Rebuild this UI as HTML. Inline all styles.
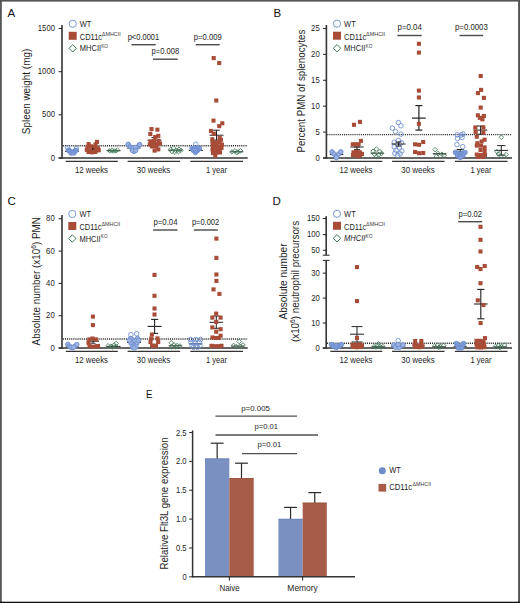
<!DOCTYPE html><html><head><meta charset="utf-8"><style>html,body{margin:0;padding:0;background:#fff;}svg{display:block;}</style></head><body>
<svg width="520" height="603" viewBox="0 0 520 603" font-family='"Liberation Sans", sans-serif'>
<rect x="0" y="0" width="520" height="603" fill="#fff"/>
<line x1="62.00" y1="25.00" x2="62.00" y2="158.70" stroke="#333" stroke-width="1.6" />
<line x1="58.60" y1="158.00" x2="62.00" y2="158.00" stroke="#333" stroke-width="1.1" />
<text x="55.00" y="160.50" font-size="9.2" text-anchor="end" fill="#1e1e1e" textLength="4.3" lengthAdjust="spacingAndGlyphs" >0</text>
<line x1="58.60" y1="114.83" x2="62.00" y2="114.83" stroke="#333" stroke-width="1.1" />
<text x="55.00" y="117.33" font-size="9.2" text-anchor="end" fill="#1e1e1e" textLength="12.899999999999999" lengthAdjust="spacingAndGlyphs" >500</text>
<line x1="58.60" y1="71.67" x2="62.00" y2="71.67" stroke="#333" stroke-width="1.1" />
<text x="55.00" y="74.17" font-size="9.2" text-anchor="end" fill="#1e1e1e" textLength="17.2" lengthAdjust="spacingAndGlyphs" >1000</text>
<line x1="58.60" y1="28.50" x2="62.00" y2="28.50" stroke="#333" stroke-width="1.1" />
<text x="55.00" y="31.00" font-size="9.2" text-anchor="end" fill="#1e1e1e" textLength="17.2" lengthAdjust="spacingAndGlyphs" >1500</text>
<line x1="58.60" y1="158.00" x2="247.70" y2="158.00" stroke="#333" stroke-width="1.5" />
<line x1="62.80" y1="145.70" x2="247.70" y2="145.70" stroke="#2a2a2a" stroke-width="1.4" stroke-dasharray="1.1,1"/>
<line x1="65.80" y1="161.40" x2="117.80" y2="161.40" stroke="#333" stroke-width="1.2" />
<line x1="127.60" y1="161.40" x2="180.10" y2="161.40" stroke="#333" stroke-width="1.2" />
<line x1="190.40" y1="161.40" x2="243.00" y2="161.40" stroke="#333" stroke-width="1.2" />
<text x="91.50" y="172.50" font-size="8.6" text-anchor="middle" fill="#1e1e1e" textLength="33" lengthAdjust="spacingAndGlyphs" >12 weeks</text>
<text x="153.50" y="172.50" font-size="8.6" text-anchor="middle" fill="#1e1e1e" textLength="33.4" lengthAdjust="spacingAndGlyphs" >30 weeks</text>
<text x="216.50" y="172.50" font-size="8.6" text-anchor="middle" fill="#1e1e1e" textLength="21" lengthAdjust="spacingAndGlyphs" >1 year</text>
<text x="7.60" y="17.00" font-size="11.5" text-anchor="start" fill="#111" >A</text>
<text x="0" y="0" font-size="10" text-anchor="middle" fill="#1e1e1e" textLength="85.4" lengthAdjust="spacingAndGlyphs" transform="translate(29.90,91.50) rotate(-90)">Spleen weight (mg)</text>
<circle cx="72.70" cy="23.80" r="3.6" fill="none" stroke="#6a8ccf" stroke-width="0.9"/>
<rect x="68.70" y="31.80" width="8" height="8" fill="#a84c38"/>
<path d="M72.70 44.60L76.40 48.30L72.70 52.00L69.00 48.30Z" fill="none" stroke="#3f7a58" stroke-width="1.0"/>
<text x="79.80" y="27.00" font-size="8.8" text-anchor="start" fill="#1e1e1e" textLength="11.6" lengthAdjust="spacingAndGlyphs" >WT</text>
<text x="79.80" y="39.90" font-size="9.0" text-anchor="start" fill="#1e1e1e" textLength="22.2" lengthAdjust="spacingAndGlyphs" >CD11c</text>
<text x="101.80" y="35.70" font-size="5.2" text-anchor="start" fill="#3a3a3a" textLength="19" lengthAdjust="spacingAndGlyphs" >ΔMHCII</text>
<text x="79.80" y="51.40" font-size="8.6" text-anchor="start" fill="#1e1e1e" textLength="21.3" lengthAdjust="spacingAndGlyphs" >MHCII</text>
<text x="101.20" y="47.60" font-size="5.2" text-anchor="start" fill="#3a3a3a" textLength="6.8" lengthAdjust="spacingAndGlyphs" >KO</text>
<line x1="65.00" y1="151.20" x2="79.00" y2="151.20" stroke="#222" stroke-width="1.0" />
<circle cx="69.50" cy="150.80" r="2.3" fill="#809cd8" stroke="#6a8ccf" stroke-width="0.85"/>
<circle cx="72.00" cy="152.20" r="2.3" fill="#809cd8" stroke="#6a8ccf" stroke-width="0.85"/>
<circle cx="74.50" cy="151.40" r="2.3" fill="#809cd8" stroke="#6a8ccf" stroke-width="0.85"/>
<circle cx="71.00" cy="153.00" r="2.3" fill="#809cd8" stroke="#6a8ccf" stroke-width="0.85"/>
<circle cx="73.80" cy="153.00" r="2.3" fill="#809cd8" stroke="#6a8ccf" stroke-width="0.85"/>
<circle cx="68.60" cy="150.10" r="2.3" fill="#809cd8" stroke="#6a8ccf" stroke-width="0.85"/>
<circle cx="76.00" cy="150.40" r="2.3" fill="#809cd8" stroke="#6a8ccf" stroke-width="0.85"/>
<circle cx="67.60" cy="147.80" r="2.3" fill="none" stroke="#6a8ccf" stroke-width="0.85"/>
<circle cx="76.40" cy="148.70" r="2.3" fill="none" stroke="#6a8ccf" stroke-width="0.85"/>
<rect x="94.95" y="139.85" width="4.1" height="4.1" fill="#a84c38"/>
<rect x="86.55" y="142.05" width="4.1" height="4.1" fill="#a84c38"/>
<rect x="93.45" y="142.45" width="4.1" height="4.1" fill="#a84c38"/>
<rect x="85.45" y="144.75" width="4.1" height="4.1" fill="#a84c38"/>
<rect x="88.95" y="144.25" width="4.1" height="4.1" fill="#a84c38"/>
<rect x="92.95" y="144.95" width="4.1" height="4.1" fill="#a84c38"/>
<rect x="95.95" y="146.15" width="4.1" height="4.1" fill="#a84c38"/>
<rect x="84.75" y="147.75" width="4.1" height="4.1" fill="#a84c38"/>
<rect x="87.55" y="148.25" width="4.1" height="4.1" fill="#a84c38"/>
<rect x="90.95" y="148.55" width="4.1" height="4.1" fill="#a84c38"/>
<rect x="94.45" y="148.35" width="4.1" height="4.1" fill="#a84c38"/>
<rect x="96.75" y="148.15" width="4.1" height="4.1" fill="#a84c38"/>
<rect x="86.45" y="149.95" width="4.1" height="4.1" fill="#a84c38"/>
<rect x="89.75" y="150.25" width="4.1" height="4.1" fill="#a84c38"/>
<rect x="93.15" y="149.95" width="4.1" height="4.1" fill="#a84c38"/>
<rect x="92" y="147.9" width="1.6" height="1.6" fill="#111"/>
<line x1="106.50" y1="150.70" x2="120.50" y2="150.70" stroke="#222" stroke-width="1.0" />
<path d="M109.30 148.60L111.30 150.60L109.30 152.60L107.30 150.60Z" fill="none" stroke="#3f7a58" stroke-width="0.85"/>
<path d="M112.00 147.80L114.00 149.80L112.00 151.80L110.00 149.80Z" fill="none" stroke="#3f7a58" stroke-width="0.85"/>
<path d="M114.80 148.70L116.80 150.70L114.80 152.70L112.80 150.70Z" fill="none" stroke="#3f7a58" stroke-width="0.85"/>
<path d="M117.40 147.80L119.40 149.80L117.40 151.80L115.40 149.80Z" fill="none" stroke="#3f7a58" stroke-width="0.85"/>
<path d="M113.30 149.30L115.30 151.30L113.30 153.30L111.30 151.30Z" fill="none" stroke="#3f7a58" stroke-width="0.85"/>
<path d="M116.00 149.20L118.00 151.20L116.00 153.20L114.00 151.20Z" fill="none" stroke="#3f7a58" stroke-width="0.85"/>
<path d="M110.60 149.20L112.60 151.20L110.60 153.20L108.60 151.20Z" fill="none" stroke="#3f7a58" stroke-width="0.85"/>
<line x1="126.80" y1="148.10" x2="140.80" y2="148.10" stroke="#222" stroke-width="0.8" />
<line x1="133.80" y1="146.90" x2="133.80" y2="149.30" stroke="#222" stroke-width="0.8" />
<line x1="131.80" y1="146.90" x2="135.80" y2="146.90" stroke="#222" stroke-width="0.8" />
<line x1="131.80" y1="149.30" x2="135.80" y2="149.30" stroke="#222" stroke-width="0.8" />
<circle cx="128.20" cy="144.60" r="2.1" fill="#9db2e0" stroke="#6a8ccf" stroke-width="0.85"/>
<circle cx="130.00" cy="146.60" r="2.1" fill="#9db2e0" stroke="#6a8ccf" stroke-width="0.85"/>
<circle cx="132.00" cy="148.80" r="2.1" fill="#9db2e0" stroke="#6a8ccf" stroke-width="0.85"/>
<circle cx="134.00" cy="150.60" r="2.1" fill="#9db2e0" stroke="#6a8ccf" stroke-width="0.85"/>
<circle cx="134.00" cy="151.60" r="2.1" fill="#9db2e0" stroke="#6a8ccf" stroke-width="0.85"/>
<circle cx="136.00" cy="148.80" r="2.1" fill="#9db2e0" stroke="#6a8ccf" stroke-width="0.85"/>
<circle cx="138.00" cy="146.60" r="2.1" fill="#9db2e0" stroke="#6a8ccf" stroke-width="0.85"/>
<circle cx="139.60" cy="144.80" r="2.1" fill="#9db2e0" stroke="#6a8ccf" stroke-width="0.85"/>
<circle cx="133.00" cy="147.40" r="2.1" fill="#9db2e0" stroke="#6a8ccf" stroke-width="0.85"/>
<circle cx="135.50" cy="147.40" r="2.1" fill="#9db2e0" stroke="#6a8ccf" stroke-width="0.85"/>
<circle cx="132.20" cy="150.60" r="2.1" fill="#9db2e0" stroke="#6a8ccf" stroke-width="0.85"/>
<circle cx="135.80" cy="150.60" r="2.1" fill="#9db2e0" stroke="#6a8ccf" stroke-width="0.85"/>
<circle cx="128.20" cy="144.40" r="2.3" fill="none" stroke="#6a8ccf" stroke-width="0.85"/>
<circle cx="139.60" cy="144.60" r="2.3" fill="none" stroke="#6a8ccf" stroke-width="0.85"/>
<line x1="147.40" y1="140.20" x2="161.40" y2="140.20" stroke="#222" stroke-width="1.0" />
<line x1="154.40" y1="137.60" x2="154.40" y2="142.80" stroke="#222" stroke-width="1.0" />
<line x1="151.40" y1="137.60" x2="157.40" y2="137.60" stroke="#222" stroke-width="1.0" />
<line x1="151.40" y1="142.80" x2="157.40" y2="142.80" stroke="#222" stroke-width="1.0" />
<rect x="149.45" y="127.05" width="4.1" height="4.1" fill="#a84c38"/>
<rect x="155.35" y="127.65" width="4.1" height="4.1" fill="#a84c38"/>
<rect x="148.25" y="131.95" width="4.1" height="4.1" fill="#a84c38"/>
<rect x="156.25" y="133.75" width="4.1" height="4.1" fill="#a84c38"/>
<rect x="153.15" y="134.95" width="4.1" height="4.1" fill="#a84c38"/>
<rect x="148.45" y="139.45" width="4.1" height="4.1" fill="#a84c38"/>
<rect x="151.95" y="138.95" width="4.1" height="4.1" fill="#a84c38"/>
<rect x="156.45" y="138.75" width="4.1" height="4.1" fill="#a84c38"/>
<rect x="147.75" y="142.45" width="4.1" height="4.1" fill="#a84c38"/>
<rect x="151.15" y="142.75" width="4.1" height="4.1" fill="#a84c38"/>
<rect x="154.95" y="142.45" width="4.1" height="4.1" fill="#a84c38"/>
<rect x="157.95" y="141.45" width="4.1" height="4.1" fill="#a84c38"/>
<rect x="149.95" y="144.45" width="4.1" height="4.1" fill="#a84c38"/>
<rect x="153.95" y="144.45" width="4.1" height="4.1" fill="#a84c38"/>
<rect x="152.55" y="148.55" width="4.1" height="4.1" fill="#a84c38"/>
<rect x="156.25" y="147.35" width="4.1" height="4.1" fill="#a84c38"/>
<line x1="168.20" y1="150.20" x2="182.20" y2="150.20" stroke="#222" stroke-width="1.0" />
<path d="M170.50 147.20L172.80 149.50L170.50 151.80L168.20 149.50Z" fill="none" stroke="#3f7a58" stroke-width="0.85"/>
<path d="M173.50 145.70L175.80 148.00L173.50 150.30L171.20 148.00Z" fill="none" stroke="#3f7a58" stroke-width="0.85"/>
<path d="M176.00 148.20L178.30 150.50L176.00 152.80L173.70 150.50Z" fill="none" stroke="#3f7a58" stroke-width="0.85"/>
<path d="M179.00 147.00L181.30 149.30L179.00 151.60L176.70 149.30Z" fill="none" stroke="#3f7a58" stroke-width="0.85"/>
<path d="M172.00 149.20L174.30 151.50L172.00 153.80L169.70 151.50Z" fill="none" stroke="#3f7a58" stroke-width="0.85"/>
<path d="M175.00 150.00L177.30 152.30L175.00 154.60L172.70 152.30Z" fill="none" stroke="#3f7a58" stroke-width="0.85"/>
<path d="M178.50 149.30L180.80 151.60L178.50 153.90L176.20 151.60Z" fill="none" stroke="#3f7a58" stroke-width="0.85"/>
<path d="M181.00 148.00L183.30 150.30L181.00 152.60L178.70 150.30Z" fill="none" stroke="#3f7a58" stroke-width="0.85"/>
<line x1="188.80" y1="150.50" x2="202.80" y2="150.50" stroke="#222" stroke-width="1.0" />
<circle cx="192.00" cy="148.50" r="2.3" fill="#809cd8" stroke="#6a8ccf" stroke-width="0.85"/>
<circle cx="194.50" cy="148.00" r="2.3" fill="#809cd8" stroke="#6a8ccf" stroke-width="0.85"/>
<circle cx="197.00" cy="148.00" r="2.3" fill="#809cd8" stroke="#6a8ccf" stroke-width="0.85"/>
<circle cx="199.50" cy="148.50" r="2.3" fill="#809cd8" stroke="#6a8ccf" stroke-width="0.85"/>
<circle cx="193.50" cy="150.50" r="2.3" fill="#809cd8" stroke="#6a8ccf" stroke-width="0.85"/>
<circle cx="197.50" cy="150.50" r="2.3" fill="#809cd8" stroke="#6a8ccf" stroke-width="0.85"/>
<circle cx="195.50" cy="152.40" r="2.3" fill="#809cd8" stroke="#6a8ccf" stroke-width="0.85"/>
<circle cx="195.50" cy="150.00" r="2.3" fill="#809cd8" stroke="#6a8ccf" stroke-width="0.85"/>
<circle cx="195.80" cy="144.20" r="2.3" fill="none" stroke="#6a8ccf" stroke-width="0.85"/>
<line x1="209.50" y1="135.20" x2="223.50" y2="135.20" stroke="#222" stroke-width="1.0" />
<line x1="216.50" y1="130.20" x2="216.50" y2="140.10" stroke="#222" stroke-width="1.0" />
<line x1="213.20" y1="130.20" x2="219.80" y2="130.20" stroke="#222" stroke-width="1.0" />
<line x1="213.20" y1="140.10" x2="219.80" y2="140.10" stroke="#222" stroke-width="1.0" />
<rect x="211.65" y="56.05" width="4.1" height="4.1" fill="#a84c38"/>
<rect x="217.15" y="60.95" width="4.1" height="4.1" fill="#a84c38"/>
<rect x="214.25" y="98.45" width="4.1" height="4.1" fill="#a84c38"/>
<rect x="211.45" y="118.55" width="4.1" height="4.1" fill="#a84c38"/>
<rect x="220.25" y="121.25" width="4.1" height="4.1" fill="#a84c38"/>
<rect x="217.15" y="124.05" width="4.1" height="4.1" fill="#a84c38"/>
<rect x="208.95" y="128.95" width="4.1" height="4.1" fill="#a84c38"/>
<rect x="211.75" y="131.55" width="4.1" height="4.1" fill="#a84c38"/>
<rect x="210.25" y="137.15" width="4.1" height="4.1" fill="#a84c38"/>
<rect x="217.65" y="135.85" width="4.1" height="4.1" fill="#a84c38"/>
<rect x="218.85" y="137.75" width="4.1" height="4.1" fill="#a84c38"/>
<rect x="210.45" y="140.45" width="4.1" height="4.1" fill="#a84c38"/>
<rect x="213.95" y="140.45" width="4.1" height="4.1" fill="#a84c38"/>
<rect x="217.45" y="140.45" width="4.1" height="4.1" fill="#a84c38"/>
<rect x="219.95" y="142.45" width="4.1" height="4.1" fill="#a84c38"/>
<rect x="210.95" y="143.95" width="4.1" height="4.1" fill="#a84c38"/>
<rect x="214.45" y="143.95" width="4.1" height="4.1" fill="#a84c38"/>
<rect x="217.95" y="144.45" width="4.1" height="4.1" fill="#a84c38"/>
<rect x="210.45" y="147.45" width="4.1" height="4.1" fill="#a84c38"/>
<rect x="213.95" y="147.45" width="4.1" height="4.1" fill="#a84c38"/>
<rect x="217.45" y="147.45" width="4.1" height="4.1" fill="#a84c38"/>
<rect x="219.45" y="145.95" width="4.1" height="4.1" fill="#a84c38"/>
<rect x="210.95" y="150.95" width="4.1" height="4.1" fill="#a84c38"/>
<rect x="214.45" y="150.45" width="4.1" height="4.1" fill="#a84c38"/>
<rect x="217.95" y="150.45" width="4.1" height="4.1" fill="#a84c38"/>
<rect x="213.25" y="153.75" width="4.1" height="4.1" fill="#a84c38"/>
<line x1="230.30" y1="151.80" x2="243.30" y2="151.80" stroke="#222" stroke-width="1.0" />
<path d="M232.00 149.50L234.30 151.80L232.00 154.10L229.70 151.80Z" fill="none" stroke="#3f7a58" stroke-width="0.85"/>
<path d="M235.00 148.50L237.30 150.80L235.00 153.10L232.70 150.80Z" fill="none" stroke="#3f7a58" stroke-width="0.85"/>
<path d="M238.00 149.70L240.30 152.00L238.00 154.30L235.70 152.00Z" fill="none" stroke="#3f7a58" stroke-width="0.85"/>
<path d="M240.50 148.50L242.80 150.80L240.50 153.10L238.20 150.80Z" fill="none" stroke="#3f7a58" stroke-width="0.85"/>
<path d="M236.50 150.30L238.80 152.60L236.50 154.90L234.20 152.60Z" fill="none" stroke="#3f7a58" stroke-width="0.85"/>
<text x="127.70" y="39.60" font-size="8.2" text-anchor="start" fill="#1e1e1e" textLength="31.5" lengthAdjust="spacingAndGlyphs" >p&lt;0.0001</text>
<line x1="131.50" y1="44.70" x2="155.70" y2="44.70" stroke="#4a4a4a" stroke-width="1.4" />
<text x="151.50" y="54.20" font-size="8.2" text-anchor="start" fill="#1e1e1e" textLength="27.7" lengthAdjust="spacingAndGlyphs" >p=0.008</text>
<line x1="153.00" y1="59.20" x2="177.70" y2="59.20" stroke="#4a4a4a" stroke-width="1.4" />
<text x="193.80" y="40.00" font-size="8.2" text-anchor="start" fill="#1e1e1e" textLength="28" lengthAdjust="spacingAndGlyphs" >p=0.009</text>
<line x1="195.80" y1="44.70" x2="219.70" y2="44.70" stroke="#4a4a4a" stroke-width="1.4" />
<line x1="326.40" y1="25.00" x2="326.40" y2="158.70" stroke="#333" stroke-width="1.6" />
<line x1="323.00" y1="158.00" x2="326.40" y2="158.00" stroke="#333" stroke-width="1.1" />
<text x="319.70" y="160.50" font-size="9.2" text-anchor="end" fill="#1e1e1e" textLength="4.3" lengthAdjust="spacingAndGlyphs" >0</text>
<line x1="323.00" y1="132.10" x2="326.40" y2="132.10" stroke="#333" stroke-width="1.1" />
<text x="319.70" y="134.60" font-size="9.2" text-anchor="end" fill="#1e1e1e" textLength="4.3" lengthAdjust="spacingAndGlyphs" >5</text>
<line x1="323.00" y1="106.20" x2="326.40" y2="106.20" stroke="#333" stroke-width="1.1" />
<text x="319.70" y="108.70" font-size="9.2" text-anchor="end" fill="#1e1e1e" textLength="8.6" lengthAdjust="spacingAndGlyphs" >10</text>
<line x1="323.00" y1="80.30" x2="326.40" y2="80.30" stroke="#333" stroke-width="1.1" />
<text x="319.70" y="82.80" font-size="9.2" text-anchor="end" fill="#1e1e1e" textLength="8.6" lengthAdjust="spacingAndGlyphs" >15</text>
<line x1="323.00" y1="54.40" x2="326.40" y2="54.40" stroke="#333" stroke-width="1.1" />
<text x="319.70" y="56.90" font-size="9.2" text-anchor="end" fill="#1e1e1e" textLength="8.6" lengthAdjust="spacingAndGlyphs" >20</text>
<line x1="323.00" y1="28.50" x2="326.40" y2="28.50" stroke="#333" stroke-width="1.1" />
<text x="319.70" y="31.00" font-size="9.2" text-anchor="end" fill="#1e1e1e" textLength="8.6" lengthAdjust="spacingAndGlyphs" >25</text>
<line x1="323.00" y1="158.00" x2="512.00" y2="158.00" stroke="#333" stroke-width="1.5" />
<line x1="327.20" y1="134.60" x2="512.00" y2="134.60" stroke="#2a2a2a" stroke-width="1.4" stroke-dasharray="1.1,1"/>
<line x1="330.30" y1="161.40" x2="382.30" y2="161.40" stroke="#333" stroke-width="1.2" />
<line x1="392.10" y1="161.40" x2="444.60" y2="161.40" stroke="#333" stroke-width="1.2" />
<line x1="454.90" y1="161.40" x2="507.50" y2="161.40" stroke="#333" stroke-width="1.2" />
<text x="356.00" y="172.50" font-size="8.6" text-anchor="middle" fill="#1e1e1e" textLength="33" lengthAdjust="spacingAndGlyphs" >12 weeks</text>
<text x="418.00" y="172.50" font-size="8.6" text-anchor="middle" fill="#1e1e1e" textLength="33.4" lengthAdjust="spacingAndGlyphs" >30 weeks</text>
<text x="481.00" y="172.50" font-size="8.6" text-anchor="middle" fill="#1e1e1e" textLength="21" lengthAdjust="spacingAndGlyphs" >1 year</text>
<text x="273.40" y="17.00" font-size="11.5" text-anchor="start" fill="#111" >B</text>
<text x="0" y="0" font-size="10.4" text-anchor="middle" fill="#1e1e1e" textLength="123" lengthAdjust="spacingAndGlyphs" transform="translate(304.60,91.10) rotate(-90)">Percent PMN of splenocytes</text>
<circle cx="337.00" cy="23.70" r="3.6" fill="none" stroke="#6a8ccf" stroke-width="0.9"/>
<rect x="333.00" y="31.70" width="8" height="8" fill="#a84c38"/>
<path d="M337.00 44.50L340.70 48.20L337.00 51.90L333.30 48.20Z" fill="none" stroke="#3f7a58" stroke-width="1.0"/>
<text x="344.10" y="26.90" font-size="8.8" text-anchor="start" fill="#1e1e1e" textLength="11.6" lengthAdjust="spacingAndGlyphs" >WT</text>
<text x="344.10" y="39.80" font-size="9.0" text-anchor="start" fill="#1e1e1e" textLength="22.2" lengthAdjust="spacingAndGlyphs" >CD11c</text>
<text x="366.10" y="35.60" font-size="5.2" text-anchor="start" fill="#3a3a3a" textLength="19" lengthAdjust="spacingAndGlyphs" >ΔMHCII</text>
<text x="344.10" y="51.30" font-size="8.6" text-anchor="start" fill="#1e1e1e" textLength="21.3" lengthAdjust="spacingAndGlyphs" >MHCII</text>
<text x="365.50" y="47.50" font-size="5.2" text-anchor="start" fill="#3a3a3a" textLength="6.8" lengthAdjust="spacingAndGlyphs" >KO</text>
<line x1="329.80" y1="154.60" x2="343.40" y2="154.60" stroke="#222" stroke-width="1.0" />
<circle cx="332.00" cy="151.80" r="2.3" fill="#9db2e0" stroke="#6a8ccf" stroke-width="0.85"/>
<circle cx="334.00" cy="154.00" r="2.3" fill="#9db2e0" stroke="#6a8ccf" stroke-width="0.85"/>
<circle cx="336.40" cy="156.10" r="2.3" fill="#9db2e0" stroke="#6a8ccf" stroke-width="0.85"/>
<circle cx="338.80" cy="154.00" r="2.3" fill="#9db2e0" stroke="#6a8ccf" stroke-width="0.85"/>
<circle cx="340.80" cy="151.80" r="2.3" fill="#9db2e0" stroke="#6a8ccf" stroke-width="0.85"/>
<circle cx="336.40" cy="157.60" r="2.3" fill="#9db2e0" stroke="#6a8ccf" stroke-width="0.85"/>
<line x1="350.40" y1="147.00" x2="363.60" y2="147.00" stroke="#222" stroke-width="1.0" />
<line x1="357.00" y1="147.00" x2="357.00" y2="149.60" stroke="#222" stroke-width="1.0" />
<line x1="354.00" y1="147.00" x2="360.00" y2="147.00" stroke="#222" stroke-width="1.0" />
<line x1="354.00" y1="149.60" x2="360.00" y2="149.60" stroke="#222" stroke-width="1.0" />
<rect x="351.95" y="122.75" width="4.1" height="4.1" fill="#a84c38"/>
<rect x="357.95" y="119.85" width="4.1" height="4.1" fill="#a84c38"/>
<rect x="358.85" y="138.85" width="4.1" height="4.1" fill="#a84c38"/>
<rect x="350.75" y="142.25" width="4.1" height="4.1" fill="#a84c38"/>
<rect x="353.65" y="142.25" width="4.1" height="4.1" fill="#a84c38"/>
<rect x="356.55" y="142.25" width="4.1" height="4.1" fill="#a84c38"/>
<rect x="351.45" y="150.25" width="4.1" height="4.1" fill="#a84c38"/>
<rect x="354.45" y="149.75" width="4.1" height="4.1" fill="#a84c38"/>
<rect x="357.95" y="150.25" width="4.1" height="4.1" fill="#a84c38"/>
<rect x="350.95" y="152.95" width="4.1" height="4.1" fill="#a84c38"/>
<rect x="354.45" y="153.25" width="4.1" height="4.1" fill="#a84c38"/>
<rect x="357.95" y="152.95" width="4.1" height="4.1" fill="#a84c38"/>
<rect x="359.95" y="151.95" width="4.1" height="4.1" fill="#a84c38"/>
<rect x="355.95" y="153.95" width="4.1" height="4.1" fill="#a84c38"/>
<line x1="370.70" y1="153.20" x2="383.90" y2="153.20" stroke="#222" stroke-width="1.0" />
<path d="M376.40 146.70L378.70 149.00L376.40 151.30L374.10 149.00Z" fill="none" stroke="#3f7a58" stroke-width="0.85"/>
<path d="M373.00 149.00L375.30 151.30L373.00 153.60L370.70 151.30Z" fill="none" stroke="#3f7a58" stroke-width="0.85"/>
<path d="M379.90 149.30L382.20 151.60L379.90 153.90L377.60 151.60Z" fill="none" stroke="#3f7a58" stroke-width="0.85"/>
<path d="M374.50 152.00L376.80 154.30L374.50 156.60L372.20 154.30Z" fill="none" stroke="#3f7a58" stroke-width="0.85"/>
<path d="M378.50 152.70L380.80 155.00L378.50 157.30L376.20 155.00Z" fill="none" stroke="#3f7a58" stroke-width="0.85"/>
<path d="M381.50 151.20L383.80 153.50L381.50 155.80L379.20 153.50Z" fill="none" stroke="#3f7a58" stroke-width="0.85"/>
<path d="M376.50 154.20L378.80 156.50L376.50 158.80L374.20 156.50Z" fill="none" stroke="#3f7a58" stroke-width="0.85"/>
<circle cx="398.40" cy="122.60" r="2.3" fill="none" stroke="#6a8ccf" stroke-width="0.85"/>
<circle cx="400.90" cy="125.80" r="2.3" fill="none" stroke="#6a8ccf" stroke-width="0.85"/>
<circle cx="392.40" cy="128.10" r="2.3" fill="none" stroke="#6a8ccf" stroke-width="0.85"/>
<circle cx="395.50" cy="131.60" r="2.3" fill="none" stroke="#6a8ccf" stroke-width="0.85"/>
<circle cx="400.90" cy="134.10" r="2.3" fill="none" stroke="#6a8ccf" stroke-width="0.85"/>
<circle cx="398.40" cy="140.50" r="2.3" fill="none" stroke="#6a8ccf" stroke-width="0.85"/>
<circle cx="394.30" cy="142.20" r="2.3" fill="none" stroke="#6a8ccf" stroke-width="0.85"/>
<circle cx="401.30" cy="142.80" r="2.3" fill="none" stroke="#6a8ccf" stroke-width="0.85"/>
<circle cx="394.30" cy="146.80" r="2.3" fill="none" stroke="#6a8ccf" stroke-width="0.85"/>
<circle cx="399.50" cy="148.00" r="2.3" fill="none" stroke="#6a8ccf" stroke-width="0.85"/>
<circle cx="396.10" cy="150.30" r="2.3" fill="none" stroke="#6a8ccf" stroke-width="0.85"/>
<circle cx="401.80" cy="150.90" r="2.3" fill="none" stroke="#6a8ccf" stroke-width="0.85"/>
<circle cx="394.90" cy="153.20" r="2.3" fill="none" stroke="#6a8ccf" stroke-width="0.85"/>
<circle cx="400.10" cy="153.80" r="2.3" fill="none" stroke="#6a8ccf" stroke-width="0.85"/>
<circle cx="397.80" cy="155.50" r="2.3" fill="none" stroke="#6a8ccf" stroke-width="0.85"/>
<line x1="391.50" y1="144.00" x2="405.50" y2="144.00" stroke="#222" stroke-width="1.0" />
<line x1="398.50" y1="142.00" x2="398.50" y2="146.00" stroke="#222" stroke-width="1.0" />
<line x1="395.50" y1="142.00" x2="401.50" y2="142.00" stroke="#222" stroke-width="1.0" />
<line x1="395.50" y1="146.00" x2="401.50" y2="146.00" stroke="#222" stroke-width="1.0" />
<line x1="412.00" y1="118.10" x2="425.80" y2="118.10" stroke="#222" stroke-width="1.2" />
<line x1="418.90" y1="105.60" x2="418.90" y2="130.10" stroke="#222" stroke-width="1.2" />
<line x1="415.40" y1="105.60" x2="422.40" y2="105.60" stroke="#222" stroke-width="1.2" />
<line x1="415.40" y1="130.10" x2="422.40" y2="130.10" stroke="#222" stroke-width="1.2" />
<rect x="416.85" y="41.75" width="4.1" height="4.1" fill="#a84c38"/>
<rect x="416.85" y="50.55" width="4.1" height="4.1" fill="#a84c38"/>
<rect x="416.85" y="88.55" width="4.1" height="4.1" fill="#a84c38"/>
<rect x="416.85" y="95.45" width="4.1" height="4.1" fill="#a84c38"/>
<rect x="416.85" y="121.75" width="4.1" height="4.1" fill="#a84c38"/>
<rect x="413.05" y="142.25" width="4.1" height="4.1" fill="#a84c38"/>
<rect x="417.05" y="142.75" width="4.1" height="4.1" fill="#a84c38"/>
<rect x="421.15" y="139.95" width="4.1" height="4.1" fill="#a84c38"/>
<rect x="413.05" y="149.95" width="4.1" height="4.1" fill="#a84c38"/>
<rect x="417.05" y="151.15" width="4.1" height="4.1" fill="#a84c38"/>
<rect x="421.15" y="150.95" width="4.1" height="4.1" fill="#a84c38"/>
<line x1="432.80" y1="153.80" x2="446.40" y2="153.80" stroke="#222" stroke-width="1.2" />
<path d="M435.10 147.40L437.40 149.70L435.10 152.00L432.80 149.70Z" fill="none" stroke="#3f7a58" stroke-width="0.85"/>
<path d="M438.00 151.20L440.30 153.50L438.00 155.80L435.70 153.50Z" fill="none" stroke="#3f7a58" stroke-width="0.85"/>
<path d="M442.00 151.90L444.30 154.20L442.00 156.50L439.70 154.20Z" fill="none" stroke="#3f7a58" stroke-width="0.85"/>
<path d="M436.50 154.00L438.80 156.30L436.50 158.60L434.20 156.30Z" fill="none" stroke="#3f7a58" stroke-width="0.85"/>
<path d="M444.00 153.00L446.30 155.30L444.00 157.60L441.70 155.30Z" fill="none" stroke="#3f7a58" stroke-width="0.85"/>
<line x1="453.40" y1="151.30" x2="467.00" y2="151.30" stroke="#222" stroke-width="1.0" />
<line x1="460.20" y1="149.50" x2="460.20" y2="152.50" stroke="#222" stroke-width="1.0" />
<line x1="456.70" y1="149.50" x2="463.70" y2="149.50" stroke="#222" stroke-width="1.0" />
<line x1="456.70" y1="152.50" x2="463.70" y2="152.50" stroke="#222" stroke-width="1.0" />
<circle cx="455.50" cy="152.50" r="2.3" fill="#809cd8" stroke="#6a8ccf" stroke-width="0.85"/>
<circle cx="458.00" cy="153.50" r="2.3" fill="#809cd8" stroke="#6a8ccf" stroke-width="0.85"/>
<circle cx="460.20" cy="154.00" r="2.3" fill="#809cd8" stroke="#6a8ccf" stroke-width="0.85"/>
<circle cx="462.50" cy="153.50" r="2.3" fill="#809cd8" stroke="#6a8ccf" stroke-width="0.85"/>
<circle cx="465.00" cy="152.50" r="2.3" fill="#809cd8" stroke="#6a8ccf" stroke-width="0.85"/>
<circle cx="457.50" cy="155.50" r="2.3" fill="#809cd8" stroke="#6a8ccf" stroke-width="0.85"/>
<circle cx="460.20" cy="156.50" r="2.3" fill="#809cd8" stroke="#6a8ccf" stroke-width="0.85"/>
<circle cx="463.00" cy="155.50" r="2.3" fill="#809cd8" stroke="#6a8ccf" stroke-width="0.85"/>
<circle cx="460.20" cy="157.50" r="2.3" fill="#809cd8" stroke="#6a8ccf" stroke-width="0.85"/>
<circle cx="457.20" cy="134.90" r="2.3" fill="none" stroke="#6a8ccf" stroke-width="0.85"/>
<circle cx="461.30" cy="134.90" r="2.3" fill="none" stroke="#6a8ccf" stroke-width="0.85"/>
<circle cx="463.10" cy="134.00" r="2.3" fill="none" stroke="#6a8ccf" stroke-width="0.85"/>
<circle cx="457.50" cy="138.50" r="2.3" fill="none" stroke="#6a8ccf" stroke-width="0.85"/>
<circle cx="462.00" cy="137.50" r="2.3" fill="none" stroke="#6a8ccf" stroke-width="0.85"/>
<circle cx="456.90" cy="144.60" r="2.3" fill="none" stroke="#6a8ccf" stroke-width="0.85"/>
<circle cx="462.70" cy="146.70" r="2.3" fill="none" stroke="#6a8ccf" stroke-width="0.85"/>
<line x1="473.80" y1="130.10" x2="487.40" y2="130.10" stroke="#222" stroke-width="1.0" />
<line x1="480.60" y1="126.00" x2="480.60" y2="134.20" stroke="#222" stroke-width="1.0" />
<line x1="476.60" y1="126.00" x2="484.60" y2="126.00" stroke="#222" stroke-width="1.0" />
<line x1="476.60" y1="134.20" x2="484.60" y2="134.20" stroke="#222" stroke-width="1.0" />
<rect x="478.65" y="73.95" width="4.1" height="4.1" fill="#a84c38"/>
<rect x="479.05" y="87.85" width="4.1" height="4.1" fill="#a84c38"/>
<rect x="475.85" y="91.05" width="4.1" height="4.1" fill="#a84c38"/>
<rect x="481.85" y="95.85" width="4.1" height="4.1" fill="#a84c38"/>
<rect x="478.65" y="105.55" width="4.1" height="4.1" fill="#a84c38"/>
<rect x="475.85" y="113.25" width="4.1" height="4.1" fill="#a84c38"/>
<rect x="477.85" y="115.75" width="4.1" height="4.1" fill="#a84c38"/>
<rect x="481.85" y="113.95" width="4.1" height="4.1" fill="#a84c38"/>
<rect x="480.35" y="117.25" width="4.1" height="4.1" fill="#a84c38"/>
<rect x="473.25" y="125.45" width="4.1" height="4.1" fill="#a84c38"/>
<rect x="481.35" y="125.45" width="4.1" height="4.1" fill="#a84c38"/>
<rect x="473.55" y="129.85" width="4.1" height="4.1" fill="#a84c38"/>
<rect x="481.35" y="130.45" width="4.1" height="4.1" fill="#a84c38"/>
<rect x="474.75" y="134.65" width="4.1" height="4.1" fill="#a84c38"/>
<rect x="482.55" y="137.65" width="4.1" height="4.1" fill="#a84c38"/>
<rect x="479.55" y="139.45" width="4.1" height="4.1" fill="#a84c38"/>
<rect x="475.35" y="141.15" width="4.1" height="4.1" fill="#a84c38"/>
<rect x="474.75" y="143.55" width="4.1" height="4.1" fill="#a84c38"/>
<rect x="478.95" y="143.55" width="4.1" height="4.1" fill="#a84c38"/>
<rect x="482.55" y="145.35" width="4.1" height="4.1" fill="#a84c38"/>
<rect x="482.55" y="148.95" width="4.1" height="4.1" fill="#a84c38"/>
<rect x="478.45" y="147.95" width="4.1" height="4.1" fill="#a84c38"/>
<rect x="474.75" y="152.55" width="4.1" height="4.1" fill="#a84c38"/>
<rect x="478.95" y="152.95" width="4.1" height="4.1" fill="#a84c38"/>
<rect x="482.95" y="152.95" width="4.1" height="4.1" fill="#a84c38"/>
<rect x="476.45" y="154.95" width="4.1" height="4.1" fill="#a84c38"/>
<rect x="480.95" y="154.95" width="4.1" height="4.1" fill="#a84c38"/>
<line x1="494.50" y1="150.40" x2="508.10" y2="150.40" stroke="#222" stroke-width="1.0" />
<line x1="501.30" y1="145.60" x2="501.30" y2="155.20" stroke="#222" stroke-width="1.0" />
<line x1="497.10" y1="145.60" x2="505.50" y2="145.60" stroke="#222" stroke-width="1.0" />
<line x1="497.10" y1="155.20" x2="505.50" y2="155.20" stroke="#222" stroke-width="1.0" />
<path d="M501.30 135.00L503.60 137.30L501.30 139.60L499.00 137.30Z" fill="none" stroke="#3f7a58" stroke-width="0.85"/>
<path d="M497.10 149.30L499.40 151.60L497.10 153.90L494.80 151.60Z" fill="none" stroke="#3f7a58" stroke-width="0.85"/>
<path d="M506.00 152.30L508.30 154.60L506.00 156.90L503.70 154.60Z" fill="none" stroke="#3f7a58" stroke-width="0.85"/>
<path d="M501.30 153.50L503.60 155.80L501.30 158.10L499.00 155.80Z" fill="none" stroke="#3f7a58" stroke-width="0.85"/>
<path d="M498.30 151.70L500.60 154.00L498.30 156.30L496.00 154.00Z" fill="none" stroke="#3f7a58" stroke-width="0.85"/>
<text x="397.50" y="30.20" font-size="8.2" text-anchor="start" fill="#1e1e1e" textLength="24.3" lengthAdjust="spacingAndGlyphs" >p=0.04</text>
<line x1="397.30" y1="35.50" x2="421.70" y2="35.50" stroke="#4a4a4a" stroke-width="1.4" />
<text x="455.00" y="30.20" font-size="8.2" text-anchor="start" fill="#1e1e1e" textLength="32.8" lengthAdjust="spacingAndGlyphs" >p=0.0003</text>
<line x1="459.50" y1="35.50" x2="483.20" y2="35.50" stroke="#4a4a4a" stroke-width="1.4" />
<line x1="62.00" y1="215.00" x2="62.00" y2="348.70" stroke="#333" stroke-width="1.6" />
<line x1="58.60" y1="348.00" x2="62.00" y2="348.00" stroke="#333" stroke-width="1.1" />
<text x="54.70" y="350.50" font-size="9.2" text-anchor="end" fill="#1e1e1e" textLength="4.3" lengthAdjust="spacingAndGlyphs" >0</text>
<line x1="58.60" y1="315.70" x2="62.00" y2="315.70" stroke="#333" stroke-width="1.1" />
<text x="54.70" y="318.20" font-size="9.2" text-anchor="end" fill="#1e1e1e" textLength="8.6" lengthAdjust="spacingAndGlyphs" >20</text>
<line x1="58.60" y1="283.40" x2="62.00" y2="283.40" stroke="#333" stroke-width="1.1" />
<text x="54.70" y="285.90" font-size="9.2" text-anchor="end" fill="#1e1e1e" textLength="8.6" lengthAdjust="spacingAndGlyphs" >40</text>
<line x1="58.60" y1="251.10" x2="62.00" y2="251.10" stroke="#333" stroke-width="1.1" />
<text x="54.70" y="253.60" font-size="9.2" text-anchor="end" fill="#1e1e1e" textLength="8.6" lengthAdjust="spacingAndGlyphs" >60</text>
<line x1="58.60" y1="218.80" x2="62.00" y2="218.80" stroke="#333" stroke-width="1.1" />
<text x="54.70" y="221.30" font-size="9.2" text-anchor="end" fill="#1e1e1e" textLength="8.6" lengthAdjust="spacingAndGlyphs" >80</text>
<line x1="58.60" y1="348.00" x2="247.70" y2="348.00" stroke="#333" stroke-width="1.5" />
<line x1="62.80" y1="339.00" x2="247.70" y2="339.00" stroke="#2a2a2a" stroke-width="1.4" stroke-dasharray="1.1,1"/>
<line x1="65.80" y1="351.40" x2="117.80" y2="351.40" stroke="#333" stroke-width="1.2" />
<line x1="127.60" y1="351.40" x2="180.10" y2="351.40" stroke="#333" stroke-width="1.2" />
<line x1="190.40" y1="351.40" x2="243.00" y2="351.40" stroke="#333" stroke-width="1.2" />
<text x="91.50" y="362.50" font-size="8.6" text-anchor="middle" fill="#1e1e1e" textLength="33" lengthAdjust="spacingAndGlyphs" >12 weeks</text>
<text x="153.50" y="362.50" font-size="8.6" text-anchor="middle" fill="#1e1e1e" textLength="33.4" lengthAdjust="spacingAndGlyphs" >30 weeks</text>
<text x="216.50" y="362.50" font-size="8.6" text-anchor="middle" fill="#1e1e1e" textLength="21" lengthAdjust="spacingAndGlyphs" >1 year</text>
<text x="7.60" y="205.00" font-size="11.5" text-anchor="start" fill="#111" >C</text>
<text x="0" y="0" font-size="10.2" text-anchor="middle" fill="#1e1e1e" transform="translate(39.90,281.20) rotate(-90) scale(0.97,1)">Absolute number (x10<tspan font-size="7" dy="-4">6</tspan><tspan dy="4">) PMN</tspan></text>
<circle cx="72.30" cy="214.00" r="3.6" fill="none" stroke="#6a8ccf" stroke-width="0.9"/>
<rect x="68.30" y="222.00" width="8" height="8" fill="#a84c38"/>
<path d="M72.30 234.80L76.00 238.50L72.30 242.20L68.60 238.50Z" fill="none" stroke="#3f7a58" stroke-width="1.0"/>
<text x="79.40" y="217.20" font-size="8.8" text-anchor="start" fill="#1e1e1e" textLength="11.6" lengthAdjust="spacingAndGlyphs" >WT</text>
<text x="79.40" y="230.10" font-size="9.0" text-anchor="start" fill="#1e1e1e" textLength="22.2" lengthAdjust="spacingAndGlyphs" >CD11c</text>
<text x="101.40" y="225.90" font-size="5.2" text-anchor="start" fill="#3a3a3a" textLength="19" lengthAdjust="spacingAndGlyphs" >ΔMHCII</text>
<text x="79.40" y="241.60" font-size="8.6" text-anchor="start" fill="#1e1e1e" textLength="21.3" lengthAdjust="spacingAndGlyphs" >MHCII</text>
<text x="100.80" y="237.80" font-size="5.2" text-anchor="start" fill="#3a3a3a" textLength="6.8" lengthAdjust="spacingAndGlyphs" >KO</text>
<line x1="65.80" y1="346.80" x2="78.80" y2="346.80" stroke="#222" stroke-width="1.0" />
<circle cx="67.80" cy="344.30" r="2.3" fill="#9db2e0" stroke="#6a8ccf" stroke-width="0.85"/>
<circle cx="69.50" cy="346.30" r="2.3" fill="#9db2e0" stroke="#6a8ccf" stroke-width="0.85"/>
<circle cx="72.20" cy="347.80" r="2.3" fill="#9db2e0" stroke="#6a8ccf" stroke-width="0.85"/>
<circle cx="74.80" cy="346.50" r="2.3" fill="#9db2e0" stroke="#6a8ccf" stroke-width="0.85"/>
<circle cx="76.80" cy="344.60" r="2.3" fill="#9db2e0" stroke="#6a8ccf" stroke-width="0.85"/>
<circle cx="71.00" cy="347.30" r="2.3" fill="#9db2e0" stroke="#6a8ccf" stroke-width="0.85"/>
<circle cx="73.50" cy="347.30" r="2.3" fill="#9db2e0" stroke="#6a8ccf" stroke-width="0.85"/>
<line x1="87.00" y1="341.20" x2="99.00" y2="341.20" stroke="#222" stroke-width="1.0" />
<line x1="93.00" y1="338.80" x2="93.00" y2="343.20" stroke="#222" stroke-width="1.0" />
<line x1="90.50" y1="338.80" x2="95.50" y2="338.80" stroke="#222" stroke-width="1.0" />
<line x1="90.50" y1="343.20" x2="95.50" y2="343.20" stroke="#222" stroke-width="1.0" />
<rect x="90.85" y="314.55" width="4.1" height="4.1" fill="#a84c38"/>
<rect x="90.85" y="323.05" width="4.1" height="4.1" fill="#a84c38"/>
<rect x="87.25" y="337.35" width="4.1" height="4.1" fill="#a84c38"/>
<rect x="93.95" y="337.35" width="4.1" height="4.1" fill="#a84c38"/>
<rect x="86.45" y="340.75" width="4.1" height="4.1" fill="#a84c38"/>
<rect x="87.45" y="344.15" width="4.1" height="4.1" fill="#a84c38"/>
<rect x="90.95" y="344.65" width="4.1" height="4.1" fill="#a84c38"/>
<rect x="94.45" y="344.15" width="4.1" height="4.1" fill="#a84c38"/>
<rect x="90.45" y="336.45" width="4.1" height="4.1" fill="#a84c38"/>
<rect x="95.95" y="343.95" width="4.1" height="4.1" fill="#a84c38"/>
<line x1="106.50" y1="346.40" x2="120.50" y2="346.40" stroke="#222" stroke-width="1.0" />
<path d="M108.00 343.50L110.30 345.80L108.00 348.10L105.70 345.80Z" fill="none" stroke="#3f7a58" stroke-width="0.85"/>
<path d="M111.00 343.90L113.30 346.20L111.00 348.50L108.70 346.20Z" fill="none" stroke="#3f7a58" stroke-width="0.85"/>
<path d="M114.00 342.70L116.30 345.00L114.00 347.30L111.70 345.00Z" fill="none" stroke="#3f7a58" stroke-width="0.85"/>
<path d="M116.20 341.20L118.50 343.50L116.20 345.80L113.90 343.50Z" fill="none" stroke="#3f7a58" stroke-width="0.85"/>
<path d="M112.50 344.70L114.80 347.00L112.50 349.30L110.20 347.00Z" fill="none" stroke="#3f7a58" stroke-width="0.85"/>
<path d="M116.00 344.30L118.30 346.60L116.00 348.90L113.70 346.60Z" fill="none" stroke="#3f7a58" stroke-width="0.85"/>
<line x1="127.10" y1="342.50" x2="140.90" y2="342.50" stroke="#222" stroke-width="1.0" />
<circle cx="130.90" cy="334.70" r="2.3" fill="none" stroke="#6a8ccf" stroke-width="0.85"/>
<circle cx="136.70" cy="333.80" r="2.3" fill="none" stroke="#6a8ccf" stroke-width="0.85"/>
<circle cx="130.50" cy="338.50" r="2.3" fill="#9db2e0" stroke="#6a8ccf" stroke-width="0.85"/>
<circle cx="137.50" cy="338.50" r="2.3" fill="#9db2e0" stroke="#6a8ccf" stroke-width="0.85"/>
<circle cx="133.00" cy="340.00" r="2.3" fill="#9db2e0" stroke="#6a8ccf" stroke-width="0.85"/>
<circle cx="135.00" cy="341.00" r="2.3" fill="#9db2e0" stroke="#6a8ccf" stroke-width="0.85"/>
<circle cx="131.00" cy="343.00" r="2.3" fill="#9db2e0" stroke="#6a8ccf" stroke-width="0.85"/>
<circle cx="137.00" cy="343.00" r="2.3" fill="#9db2e0" stroke="#6a8ccf" stroke-width="0.85"/>
<circle cx="134.00" cy="345.50" r="2.3" fill="#9db2e0" stroke="#6a8ccf" stroke-width="0.85"/>
<circle cx="129.50" cy="340.50" r="2.3" fill="#9db2e0" stroke="#6a8ccf" stroke-width="0.85"/>
<circle cx="138.50" cy="340.50" r="2.3" fill="#9db2e0" stroke="#6a8ccf" stroke-width="0.85"/>
<circle cx="132.50" cy="347.00" r="2.3" fill="#9db2e0" stroke="#6a8ccf" stroke-width="0.85"/>
<circle cx="136.00" cy="346.80" r="2.3" fill="#9db2e0" stroke="#6a8ccf" stroke-width="0.85"/>
<circle cx="134.00" cy="348.00" r="2.3" fill="#9db2e0" stroke="#6a8ccf" stroke-width="0.85"/>
<line x1="147.60" y1="326.40" x2="161.60" y2="326.40" stroke="#222" stroke-width="1.1" />
<line x1="154.60" y1="319.40" x2="154.60" y2="333.40" stroke="#222" stroke-width="1.1" />
<line x1="151.10" y1="319.40" x2="158.10" y2="319.40" stroke="#222" stroke-width="1.1" />
<line x1="151.10" y1="333.40" x2="158.10" y2="333.40" stroke="#222" stroke-width="1.1" />
<rect x="152.45" y="272.85" width="4.1" height="4.1" fill="#a84c38"/>
<rect x="152.45" y="293.75" width="4.1" height="4.1" fill="#a84c38"/>
<rect x="152.45" y="306.45" width="4.1" height="4.1" fill="#a84c38"/>
<rect x="152.45" y="312.45" width="4.1" height="4.1" fill="#a84c38"/>
<rect x="149.85" y="332.55" width="4.1" height="4.1" fill="#a84c38"/>
<rect x="149.25" y="336.55" width="4.1" height="4.1" fill="#a84c38"/>
<rect x="155.45" y="336.35" width="4.1" height="4.1" fill="#a84c38"/>
<rect x="148.45" y="339.95" width="4.1" height="4.1" fill="#a84c38"/>
<rect x="156.15" y="339.95" width="4.1" height="4.1" fill="#a84c38"/>
<rect x="149.95" y="343.55" width="4.1" height="4.1" fill="#a84c38"/>
<rect x="153.95" y="343.55" width="4.1" height="4.1" fill="#a84c38"/>
<rect x="151.95" y="344.15" width="4.1" height="4.1" fill="#a84c38"/>
<line x1="168.70" y1="345.80" x2="181.70" y2="345.80" stroke="#222" stroke-width="1.0" />
<path d="M171.30 340.50L173.60 342.80L171.30 345.10L169.00 342.80Z" fill="none" stroke="#3f7a58" stroke-width="0.85"/>
<path d="M174.00 342.70L176.30 345.00L174.00 347.30L171.70 345.00Z" fill="none" stroke="#3f7a58" stroke-width="0.85"/>
<path d="M177.00 343.20L179.30 345.50L177.00 347.80L174.70 345.50Z" fill="none" stroke="#3f7a58" stroke-width="0.85"/>
<path d="M180.00 343.70L182.30 346.00L180.00 348.30L177.70 346.00Z" fill="none" stroke="#3f7a58" stroke-width="0.85"/>
<path d="M176.00 344.70L178.30 347.00L176.00 349.30L173.70 347.00Z" fill="none" stroke="#3f7a58" stroke-width="0.85"/>
<path d="M172.00 344.70L174.30 347.00L172.00 349.30L169.70 347.00Z" fill="none" stroke="#3f7a58" stroke-width="0.85"/>
<line x1="189.30" y1="343.80" x2="202.30" y2="343.80" stroke="#222" stroke-width="1.0" />
<circle cx="190.50" cy="339.50" r="2.3" fill="none" stroke="#6a8ccf" stroke-width="0.85"/>
<circle cx="195.80" cy="339.50" r="2.3" fill="none" stroke="#6a8ccf" stroke-width="0.85"/>
<circle cx="200.50" cy="339.50" r="2.3" fill="none" stroke="#6a8ccf" stroke-width="0.85"/>
<circle cx="191.00" cy="342.50" r="2.3" fill="none" stroke="#6a8ccf" stroke-width="0.85"/>
<circle cx="195.00" cy="342.50" r="2.3" fill="none" stroke="#6a8ccf" stroke-width="0.85"/>
<circle cx="199.50" cy="342.50" r="2.3" fill="none" stroke="#6a8ccf" stroke-width="0.85"/>
<circle cx="192.00" cy="345.50" r="2.3" fill="none" stroke="#6a8ccf" stroke-width="0.85"/>
<circle cx="196.00" cy="345.50" r="2.3" fill="none" stroke="#6a8ccf" stroke-width="0.85"/>
<circle cx="200.00" cy="345.50" r="2.3" fill="none" stroke="#6a8ccf" stroke-width="0.85"/>
<circle cx="193.50" cy="347.30" r="2.3" fill="none" stroke="#6a8ccf" stroke-width="0.85"/>
<circle cx="197.50" cy="347.30" r="2.3" fill="none" stroke="#6a8ccf" stroke-width="0.85"/>
<line x1="209.50" y1="322.30" x2="223.10" y2="322.30" stroke="#222" stroke-width="1.0" />
<line x1="216.30" y1="316.00" x2="216.30" y2="328.30" stroke="#222" stroke-width="1.0" />
<line x1="213.00" y1="316.00" x2="219.60" y2="316.00" stroke="#222" stroke-width="1.0" />
<line x1="213.00" y1="328.30" x2="219.60" y2="328.30" stroke="#222" stroke-width="1.0" />
<rect x="214.35" y="236.55" width="4.1" height="4.1" fill="#a84c38"/>
<rect x="214.35" y="255.85" width="4.1" height="4.1" fill="#a84c38"/>
<rect x="214.35" y="272.45" width="4.1" height="4.1" fill="#a84c38"/>
<rect x="214.35" y="278.85" width="4.1" height="4.1" fill="#a84c38"/>
<rect x="211.45" y="287.35" width="4.1" height="4.1" fill="#a84c38"/>
<rect x="217.35" y="291.85" width="4.1" height="4.1" fill="#a84c38"/>
<rect x="214.15" y="311.55" width="4.1" height="4.1" fill="#a84c38"/>
<rect x="210.25" y="315.55" width="4.1" height="4.1" fill="#a84c38"/>
<rect x="218.55" y="315.55" width="4.1" height="4.1" fill="#a84c38"/>
<rect x="214.15" y="319.85" width="4.1" height="4.1" fill="#a84c38"/>
<rect x="210.25" y="325.35" width="4.1" height="4.1" fill="#a84c38"/>
<rect x="218.55" y="327.15" width="4.1" height="4.1" fill="#a84c38"/>
<rect x="214.15" y="329.65" width="4.1" height="4.1" fill="#a84c38"/>
<rect x="218.55" y="333.65" width="4.1" height="4.1" fill="#a84c38"/>
<rect x="210.45" y="335.45" width="4.1" height="4.1" fill="#a84c38"/>
<rect x="213.75" y="335.95" width="4.1" height="4.1" fill="#a84c38"/>
<rect x="216.45" y="335.95" width="4.1" height="4.1" fill="#a84c38"/>
<rect x="209.45" y="343.75" width="4.1" height="4.1" fill="#a84c38"/>
<rect x="212.95" y="344.15" width="4.1" height="4.1" fill="#a84c38"/>
<rect x="216.45" y="344.15" width="4.1" height="4.1" fill="#a84c38"/>
<rect x="219.45" y="343.75" width="4.1" height="4.1" fill="#a84c38"/>
<line x1="231.30" y1="346.10" x2="244.30" y2="346.10" stroke="#222" stroke-width="1.0" />
<path d="M239.10 339.20L241.40 341.50L239.10 343.80L236.80 341.50Z" fill="none" stroke="#3f7a58" stroke-width="0.85"/>
<path d="M233.50 343.20L235.80 345.50L233.50 347.80L231.20 345.50Z" fill="none" stroke="#3f7a58" stroke-width="0.85"/>
<path d="M236.50 344.20L238.80 346.50L236.50 348.80L234.20 346.50Z" fill="none" stroke="#3f7a58" stroke-width="0.85"/>
<path d="M240.00 343.90L242.30 346.20L240.00 348.50L237.70 346.20Z" fill="none" stroke="#3f7a58" stroke-width="0.85"/>
<path d="M243.00 342.70L245.30 345.00L243.00 347.30L240.70 345.00Z" fill="none" stroke="#3f7a58" stroke-width="0.85"/>
<text x="153.50" y="225.40" font-size="8.2" text-anchor="start" fill="#1e1e1e" textLength="24" lengthAdjust="spacingAndGlyphs" >p=0.04</text>
<line x1="153.10" y1="230.00" x2="177.50" y2="230.00" stroke="#4a4a4a" stroke-width="1.4" />
<text x="191.90" y="225.40" font-size="8.2" text-anchor="start" fill="#1e1e1e" textLength="27.3" lengthAdjust="spacingAndGlyphs" >p=0.002</text>
<line x1="193.80" y1="230.00" x2="217.90" y2="230.00" stroke="#4a4a4a" stroke-width="1.4" />
<line x1="326.20" y1="260.50" x2="326.20" y2="348.70" stroke="#333" stroke-width="1.6" />
<line x1="322.80" y1="348.00" x2="326.20" y2="348.00" stroke="#333" stroke-width="1.1" />
<text x="319.80" y="350.50" font-size="9.2" text-anchor="end" fill="#1e1e1e" textLength="4.3" lengthAdjust="spacingAndGlyphs" >0</text>
<line x1="322.80" y1="323.05" x2="326.20" y2="323.05" stroke="#333" stroke-width="1.1" />
<text x="319.80" y="325.55" font-size="9.2" text-anchor="end" fill="#1e1e1e" textLength="8.6" lengthAdjust="spacingAndGlyphs" >10</text>
<line x1="322.80" y1="298.10" x2="326.20" y2="298.10" stroke="#333" stroke-width="1.1" />
<text x="319.80" y="300.60" font-size="9.2" text-anchor="end" fill="#1e1e1e" textLength="8.6" lengthAdjust="spacingAndGlyphs" >20</text>
<line x1="322.80" y1="273.15" x2="326.20" y2="273.15" stroke="#333" stroke-width="1.1" />
<text x="319.80" y="275.65" font-size="9.2" text-anchor="end" fill="#1e1e1e" textLength="8.6" lengthAdjust="spacingAndGlyphs" >30</text>
<line x1="322.80" y1="348.00" x2="512.00" y2="348.00" stroke="#333" stroke-width="1.5" />
<line x1="327.00" y1="343.30" x2="512.00" y2="343.30" stroke="#2a2a2a" stroke-width="1.4" stroke-dasharray="1.1,1"/>
<line x1="330.30" y1="351.40" x2="382.30" y2="351.40" stroke="#333" stroke-width="1.2" />
<line x1="392.10" y1="351.40" x2="444.60" y2="351.40" stroke="#333" stroke-width="1.2" />
<line x1="454.90" y1="351.40" x2="507.50" y2="351.40" stroke="#333" stroke-width="1.2" />
<text x="356.00" y="362.50" font-size="8.6" text-anchor="middle" fill="#1e1e1e" textLength="33" lengthAdjust="spacingAndGlyphs" >12 weeks</text>
<text x="418.00" y="362.50" font-size="8.6" text-anchor="middle" fill="#1e1e1e" textLength="33.4" lengthAdjust="spacingAndGlyphs" >30 weeks</text>
<text x="481.00" y="362.50" font-size="8.6" text-anchor="middle" fill="#1e1e1e" textLength="21" lengthAdjust="spacingAndGlyphs" >1 year</text>
<text x="272.60" y="205.00" font-size="11.5" text-anchor="start" fill="#111" >D</text>
<line x1="326.20" y1="216.20" x2="326.20" y2="255.20" stroke="#333" stroke-width="1.6" />
<line x1="322.80" y1="255.20" x2="329.60" y2="255.20" stroke="#333" stroke-width="1.1" />
<line x1="322.80" y1="260.40" x2="329.60" y2="260.40" stroke="#333" stroke-width="1.1" />
<line x1="322.80" y1="218.50" x2="326.20" y2="218.50" stroke="#333" stroke-width="1.1" />
<text x="319.80" y="221.00" font-size="9.2" text-anchor="end" fill="#1e1e1e" textLength="12.899999999999999" lengthAdjust="spacingAndGlyphs" >150</text>
<line x1="322.80" y1="234.60" x2="326.20" y2="234.60" stroke="#333" stroke-width="1.1" />
<text x="319.80" y="237.10" font-size="9.2" text-anchor="end" fill="#1e1e1e" textLength="12.899999999999999" lengthAdjust="spacingAndGlyphs" >100</text>
<line x1="322.80" y1="250.30" x2="326.20" y2="250.30" stroke="#333" stroke-width="1.1" />
<text x="319.80" y="252.80" font-size="9.2" text-anchor="end" fill="#1e1e1e" textLength="8.6" lengthAdjust="spacingAndGlyphs" >50</text>
<text x="0" y="0" font-size="10.4" text-anchor="middle" fill="#1e1e1e" textLength="76" lengthAdjust="spacingAndGlyphs" transform="translate(287.00,281.50) rotate(-90)">Absolute number</text>
<text x="0" y="0" font-size="10.4" text-anchor="middle" fill="#1e1e1e" transform="translate(299.40,281.50) rotate(-90) scale(0.946,1)">(x10<tspan font-size="7" dy="-4">6</tspan><tspan dy="4">) neutrophil precursors</tspan></text>
<circle cx="337.00" cy="213.80" r="3.6" fill="none" stroke="#6a8ccf" stroke-width="0.9"/>
<rect x="333.00" y="221.80" width="8" height="8" fill="#a84c38"/>
<path d="M337.00 234.60L340.70 238.30L337.00 242.00L333.30 238.30Z" fill="none" stroke="#3f7a58" stroke-width="1.0"/>
<text x="344.10" y="217.00" font-size="8.8" text-anchor="start" fill="#1e1e1e" textLength="11.6" lengthAdjust="spacingAndGlyphs" >WT</text>
<text x="344.10" y="229.90" font-size="9.0" text-anchor="start" fill="#1e1e1e" textLength="22.2" lengthAdjust="spacingAndGlyphs" >CD11c</text>
<text x="366.10" y="225.70" font-size="5.2" text-anchor="start" fill="#3a3a3a" textLength="19" lengthAdjust="spacingAndGlyphs" >ΔMHCII</text>
<text x="344.10" y="241.40" font-size="8.6" text-anchor="start" fill="#1e1e1e" textLength="21.3" lengthAdjust="spacingAndGlyphs" font-style="italic">MHCII</text>
<text x="365.50" y="237.60" font-size="5.2" text-anchor="start" fill="#3a3a3a" textLength="6.8" lengthAdjust="spacingAndGlyphs" font-style="italic">KO</text>
<line x1="330.00" y1="346.20" x2="343.00" y2="346.20" stroke="#222" stroke-width="1.0" />
<circle cx="331.50" cy="344.60" r="2.3" fill="#809cd8" stroke="#6a8ccf" stroke-width="0.85"/>
<circle cx="333.50" cy="346.30" r="2.3" fill="#809cd8" stroke="#6a8ccf" stroke-width="0.85"/>
<circle cx="336.20" cy="347.60" r="2.3" fill="#809cd8" stroke="#6a8ccf" stroke-width="0.85"/>
<circle cx="339.00" cy="346.30" r="2.3" fill="#809cd8" stroke="#6a8ccf" stroke-width="0.85"/>
<circle cx="341.30" cy="344.60" r="2.3" fill="#809cd8" stroke="#6a8ccf" stroke-width="0.85"/>
<circle cx="336.20" cy="345.80" r="2.3" fill="#809cd8" stroke="#6a8ccf" stroke-width="0.85"/>
<line x1="350.00" y1="334.20" x2="364.00" y2="334.20" stroke="#222" stroke-width="1.0" />
<line x1="357.00" y1="326.60" x2="357.00" y2="342.00" stroke="#222" stroke-width="1.0" />
<line x1="351.50" y1="326.60" x2="362.50" y2="326.60" stroke="#222" stroke-width="1.0" />
<line x1="351.50" y1="342.00" x2="362.50" y2="342.00" stroke="#222" stroke-width="1.0" />
<rect x="354.95" y="265.05" width="4.1" height="4.1" fill="#a84c38"/>
<rect x="354.95" y="299.05" width="4.1" height="4.1" fill="#a84c38"/>
<rect x="354.95" y="335.85" width="4.1" height="4.1" fill="#a84c38"/>
<rect x="350.45" y="342.95" width="4.1" height="4.1" fill="#a84c38"/>
<rect x="353.95" y="342.45" width="4.1" height="4.1" fill="#a84c38"/>
<rect x="357.45" y="342.45" width="4.1" height="4.1" fill="#a84c38"/>
<rect x="359.95" y="343.45" width="4.1" height="4.1" fill="#a84c38"/>
<rect x="351.45" y="344.95" width="4.1" height="4.1" fill="#a84c38"/>
<rect x="354.95" y="345.15" width="4.1" height="4.1" fill="#a84c38"/>
<rect x="358.45" y="344.95" width="4.1" height="4.1" fill="#a84c38"/>
<line x1="371.80" y1="346.80" x2="384.80" y2="346.80" stroke="#222" stroke-width="1.0" />
<path d="M378.50 341.60L380.50 343.60L378.50 345.60L376.50 343.60Z" fill="none" stroke="#3f7a58" stroke-width="0.85"/>
<path d="M374.00 344.30L376.00 346.30L374.00 348.30L372.00 346.30Z" fill="none" stroke="#3f7a58" stroke-width="0.85"/>
<path d="M377.00 343.50L379.00 345.50L377.00 347.50L375.00 345.50Z" fill="none" stroke="#3f7a58" stroke-width="0.85"/>
<path d="M380.00 344.20L382.00 346.20L380.00 348.20L378.00 346.20Z" fill="none" stroke="#3f7a58" stroke-width="0.85"/>
<path d="M383.00 344.30L385.00 346.30L383.00 348.30L381.00 346.30Z" fill="none" stroke="#3f7a58" stroke-width="0.85"/>
<path d="M376.00 345.30L378.00 347.30L376.00 349.30L374.00 347.30Z" fill="none" stroke="#3f7a58" stroke-width="0.85"/>
<path d="M381.00 345.30L383.00 347.30L381.00 349.30L379.00 347.30Z" fill="none" stroke="#3f7a58" stroke-width="0.85"/>
<line x1="391.30" y1="346.20" x2="405.30" y2="346.20" stroke="#222" stroke-width="1.0" />
<circle cx="398.20" cy="340.70" r="2.3" fill="none" stroke="#6a8ccf" stroke-width="0.85"/>
<circle cx="393.80" cy="345.00" r="2.3" fill="#9db2e0" stroke="#6a8ccf" stroke-width="0.85"/>
<circle cx="397.00" cy="346.50" r="2.3" fill="#9db2e0" stroke="#6a8ccf" stroke-width="0.85"/>
<circle cx="400.50" cy="346.00" r="2.3" fill="#9db2e0" stroke="#6a8ccf" stroke-width="0.85"/>
<circle cx="403.00" cy="345.00" r="2.3" fill="#9db2e0" stroke="#6a8ccf" stroke-width="0.85"/>
<circle cx="395.50" cy="347.20" r="2.3" fill="#9db2e0" stroke="#6a8ccf" stroke-width="0.85"/>
<circle cx="399.00" cy="347.50" r="2.3" fill="#9db2e0" stroke="#6a8ccf" stroke-width="0.85"/>
<circle cx="398.20" cy="344.50" r="2.3" fill="#9db2e0" stroke="#6a8ccf" stroke-width="0.85"/>
<line x1="412.40" y1="345.40" x2="424.40" y2="345.40" stroke="#222" stroke-width="1.0" />
<rect x="413.15" y="338.95" width="4.1" height="4.1" fill="#a84c38"/>
<rect x="419.25" y="338.95" width="4.1" height="4.1" fill="#a84c38"/>
<rect x="412.45" y="342.65" width="4.1" height="4.1" fill="#a84c38"/>
<rect x="415.95" y="343.45" width="4.1" height="4.1" fill="#a84c38"/>
<rect x="419.45" y="342.75" width="4.1" height="4.1" fill="#a84c38"/>
<rect x="413.45" y="344.95" width="4.1" height="4.1" fill="#a84c38"/>
<rect x="417.45" y="345.15" width="4.1" height="4.1" fill="#a84c38"/>
<rect x="420.45" y="344.45" width="4.1" height="4.1" fill="#a84c38"/>
<line x1="433.00" y1="346.80" x2="446.00" y2="346.80" stroke="#222" stroke-width="1.0" />
<path d="M434.50 343.90L436.80 346.20L434.50 348.50L432.20 346.20Z" fill="none" stroke="#3f7a58" stroke-width="0.85"/>
<path d="M437.50 342.90L439.80 345.20L437.50 347.50L435.20 345.20Z" fill="none" stroke="#3f7a58" stroke-width="0.85"/>
<path d="M440.50 344.20L442.80 346.50L440.50 348.80L438.20 346.50Z" fill="none" stroke="#3f7a58" stroke-width="0.85"/>
<path d="M443.50 343.20L445.80 345.50L443.50 347.80L441.20 345.50Z" fill="none" stroke="#3f7a58" stroke-width="0.85"/>
<path d="M439.00 345.00L441.30 347.30L439.00 349.60L436.70 347.30Z" fill="none" stroke="#3f7a58" stroke-width="0.85"/>
<line x1="453.70" y1="346.30" x2="466.70" y2="346.30" stroke="#222" stroke-width="1.0" />
<circle cx="456.50" cy="343.50" r="2.3" fill="#809cd8" stroke="#6a8ccf" stroke-width="0.85"/>
<circle cx="463.50" cy="343.50" r="2.3" fill="#809cd8" stroke="#6a8ccf" stroke-width="0.85"/>
<circle cx="457.70" cy="345.80" r="2.3" fill="#809cd8" stroke="#6a8ccf" stroke-width="0.85"/>
<circle cx="462.30" cy="345.80" r="2.3" fill="#809cd8" stroke="#6a8ccf" stroke-width="0.85"/>
<circle cx="460.00" cy="347.50" r="2.3" fill="#809cd8" stroke="#6a8ccf" stroke-width="0.85"/>
<circle cx="458.50" cy="348.00" r="2.3" fill="#809cd8" stroke="#6a8ccf" stroke-width="0.85"/>
<circle cx="461.50" cy="348.00" r="2.3" fill="#809cd8" stroke="#6a8ccf" stroke-width="0.85"/>
<line x1="474.00" y1="304.00" x2="487.60" y2="304.00" stroke="#222" stroke-width="1.1" />
<line x1="480.80" y1="289.40" x2="480.80" y2="318.80" stroke="#222" stroke-width="1.1" />
<line x1="477.20" y1="289.40" x2="484.40" y2="289.40" stroke="#222" stroke-width="1.1" />
<line x1="477.20" y1="318.80" x2="484.40" y2="318.80" stroke="#222" stroke-width="1.1" />
<rect x="478.45" y="224.75" width="4.1" height="4.1" fill="#a84c38"/>
<rect x="478.45" y="237.75" width="4.1" height="4.1" fill="#a84c38"/>
<rect x="478.45" y="249.45" width="4.1" height="4.1" fill="#a84c38"/>
<rect x="475.15" y="264.95" width="4.1" height="4.1" fill="#a84c38"/>
<rect x="478.45" y="266.95" width="4.1" height="4.1" fill="#a84c38"/>
<rect x="482.65" y="263.95" width="4.1" height="4.1" fill="#a84c38"/>
<rect x="478.45" y="281.15" width="4.1" height="4.1" fill="#a84c38"/>
<rect x="475.75" y="298.25" width="4.1" height="4.1" fill="#a84c38"/>
<rect x="481.45" y="302.95" width="4.1" height="4.1" fill="#a84c38"/>
<rect x="478.55" y="321.05" width="4.1" height="4.1" fill="#a84c38"/>
<rect x="482.95" y="336.05" width="4.1" height="4.1" fill="#a84c38"/>
<rect x="474.45" y="338.75" width="4.1" height="4.1" fill="#a84c38"/>
<rect x="477.95" y="338.75" width="4.1" height="4.1" fill="#a84c38"/>
<rect x="481.45" y="339.15" width="4.1" height="4.1" fill="#a84c38"/>
<rect x="474.45" y="342.25" width="4.1" height="4.1" fill="#a84c38"/>
<rect x="477.95" y="342.75" width="4.1" height="4.1" fill="#a84c38"/>
<rect x="481.95" y="342.45" width="4.1" height="4.1" fill="#a84c38"/>
<rect x="475.45" y="345.25" width="4.1" height="4.1" fill="#a84c38"/>
<rect x="478.95" y="345.45" width="4.1" height="4.1" fill="#a84c38"/>
<rect x="482.45" y="345.15" width="4.1" height="4.1" fill="#a84c38"/>
<line x1="494.10" y1="346.90" x2="507.10" y2="346.90" stroke="#222" stroke-width="1.0" />
<path d="M495.50 344.20L497.80 346.50L495.50 348.80L493.20 346.50Z" fill="none" stroke="#3f7a58" stroke-width="0.85"/>
<path d="M498.50 343.20L500.80 345.50L498.50 347.80L496.20 345.50Z" fill="none" stroke="#3f7a58" stroke-width="0.85"/>
<path d="M501.50 344.20L503.80 346.50L501.50 348.80L499.20 346.50Z" fill="none" stroke="#3f7a58" stroke-width="0.85"/>
<path d="M504.50 342.90L506.80 345.20L504.50 347.50L502.20 345.20Z" fill="none" stroke="#3f7a58" stroke-width="0.85"/>
<path d="M500.00 345.20L502.30 347.50L500.00 349.80L497.70 347.50Z" fill="none" stroke="#3f7a58" stroke-width="0.85"/>
<text x="458.60" y="216.60" font-size="8.2" text-anchor="start" fill="#1e1e1e" textLength="23.5" lengthAdjust="spacingAndGlyphs" >p=0.02</text>
<line x1="458.20" y1="221.70" x2="482.20" y2="221.70" stroke="#4a4a4a" stroke-width="1.4" />
<text x="0" y="0" font-size="11.5" fill="#111" transform="translate(146.0,397.7) scale(0.84,1)">E</text>
<line x1="192.60" y1="430.40" x2="192.60" y2="577.50" stroke="#333" stroke-width="1.5" />
<line x1="189.20" y1="576.80" x2="192.60" y2="576.80" stroke="#333" stroke-width="1.1" />
<text x="186.60" y="579.80" font-size="8.2" text-anchor="end" fill="#1e1e1e" textLength="4.2" lengthAdjust="spacingAndGlyphs" >0</text>
<line x1="189.20" y1="547.95" x2="192.60" y2="547.95" stroke="#333" stroke-width="1.1" />
<text x="186.60" y="550.95" font-size="8.2" text-anchor="end" fill="#1e1e1e" textLength="10.6" lengthAdjust="spacingAndGlyphs" >0.5</text>
<line x1="189.20" y1="519.10" x2="192.60" y2="519.10" stroke="#333" stroke-width="1.1" />
<text x="186.60" y="522.10" font-size="8.2" text-anchor="end" fill="#1e1e1e" textLength="10.6" lengthAdjust="spacingAndGlyphs" >1.0</text>
<line x1="189.20" y1="490.25" x2="192.60" y2="490.25" stroke="#333" stroke-width="1.1" />
<text x="186.60" y="493.25" font-size="8.2" text-anchor="end" fill="#1e1e1e" textLength="10.6" lengthAdjust="spacingAndGlyphs" >1.5</text>
<line x1="189.20" y1="461.40" x2="192.60" y2="461.40" stroke="#333" stroke-width="1.1" />
<text x="186.60" y="464.40" font-size="8.2" text-anchor="end" fill="#1e1e1e" textLength="10.6" lengthAdjust="spacingAndGlyphs" >2.0</text>
<line x1="189.20" y1="432.55" x2="192.60" y2="432.55" stroke="#333" stroke-width="1.1" />
<text x="186.60" y="435.55" font-size="8.2" text-anchor="end" fill="#1e1e1e" textLength="10.6" lengthAdjust="spacingAndGlyphs" >2.5</text>
<rect x="205" y="458.5" width="24.30" height="118.30" fill="#7a90c0"/>
<line x1="205" y1="458.9" x2="229.3" y2="458.9" stroke="#6b82b6" stroke-width="0.8"/>
<line x1="217.15" y1="443.20" x2="217.15" y2="458.50" stroke="#2a2a2a" stroke-width="1.2" />
<line x1="210.75" y1="443.20" x2="223.55" y2="443.20" stroke="#2a2a2a" stroke-width="1.2" />
<rect x="229.3" y="478.1" width="24.40" height="98.70" fill="#a75c48"/>
<line x1="229.3" y1="478.5" x2="253.7" y2="478.5" stroke="#9a5040" stroke-width="0.8"/>
<line x1="241.50" y1="463.20" x2="241.50" y2="478.10" stroke="#2a2a2a" stroke-width="1.2" />
<line x1="235.10" y1="463.20" x2="247.90" y2="463.20" stroke="#2a2a2a" stroke-width="1.2" />
<rect x="278.4" y="518.9" width="24.30" height="57.90" fill="#7a90c0"/>
<line x1="278.4" y1="519.3" x2="302.7" y2="519.3" stroke="#6b82b6" stroke-width="0.8"/>
<line x1="290.55" y1="507.40" x2="290.55" y2="518.90" stroke="#2a2a2a" stroke-width="1.2" />
<line x1="284.15" y1="507.40" x2="296.95" y2="507.40" stroke="#2a2a2a" stroke-width="1.2" />
<rect x="302.7" y="502.7" width="24.10" height="74.10" fill="#a75c48"/>
<line x1="302.7" y1="503.09999999999997" x2="326.8" y2="503.09999999999997" stroke="#9a5040" stroke-width="0.8"/>
<line x1="314.75" y1="492.60" x2="314.75" y2="502.70" stroke="#2a2a2a" stroke-width="1.2" />
<line x1="308.35" y1="492.60" x2="321.15" y2="492.60" stroke="#2a2a2a" stroke-width="1.2" />
<line x1="192.60" y1="576.80" x2="355.00" y2="576.80" stroke="#333" stroke-width="1.4" />
<line x1="229.40" y1="576.80" x2="229.40" y2="580.50" stroke="#333" stroke-width="1.1" />
<line x1="302.60" y1="576.80" x2="302.60" y2="580.50" stroke="#333" stroke-width="1.1" />
<text x="229.60" y="591.00" font-size="8.2" text-anchor="middle" fill="#1e1e1e" textLength="20.4" lengthAdjust="spacingAndGlyphs" >Naive</text>
<text x="302.60" y="591.00" font-size="8.2" text-anchor="middle" fill="#1e1e1e" textLength="30.5" lengthAdjust="spacingAndGlyphs" >Memory</text>
<text x="0" y="0" font-size="10" text-anchor="middle" fill="#1e1e1e" textLength="132" lengthAdjust="spacingAndGlyphs" transform="translate(167.60,503.50) rotate(-90)">Relative Flt3L gene expression</text>
<line x1="215.50" y1="416.20" x2="297.00" y2="416.20" stroke="#505050" stroke-width="1.3" />
<line x1="215.50" y1="435.00" x2="318.00" y2="435.00" stroke="#505050" stroke-width="1.3" />
<line x1="242.00" y1="453.70" x2="297.00" y2="453.70" stroke="#505050" stroke-width="1.3" />
<text x="241.20" y="410.60" font-size="7.8" text-anchor="start" fill="#1e1e1e" textLength="28.8" lengthAdjust="spacingAndGlyphs" >p=0.005</text>
<text x="254.50" y="428.60" font-size="7.8" text-anchor="start" fill="#1e1e1e" textLength="23.5" lengthAdjust="spacingAndGlyphs" >p=0.01</text>
<text x="257.50" y="447.30" font-size="7.8" text-anchor="start" fill="#1e1e1e" textLength="23.7" lengthAdjust="spacingAndGlyphs" >p=0.01</text>
<circle cx="382.30" cy="470.80" r="3.5" fill="#6f8cc8" stroke="#6f8cc8" stroke-width="0"/>
<rect x="378.5" y="483.9" width="7.7" height="7.7" fill="#a85c48"/>
<text x="389.20" y="473.20" font-size="8.4" text-anchor="start" fill="#1e1e1e" textLength="11.6" lengthAdjust="spacingAndGlyphs" >WT</text>
<text x="389.20" y="490.30" font-size="8.4" text-anchor="start" fill="#1e1e1e" textLength="23" lengthAdjust="spacingAndGlyphs" >CD11c</text>
<text x="412.50" y="486.40" font-size="5.2" text-anchor="start" fill="#3a3a3a" textLength="18.6" lengthAdjust="spacingAndGlyphs" >ΔMHCII</text>
<rect x="0" y="0" width="520" height="1.6" fill="#555"/>
<rect x="0" y="0" width="1.8" height="603" fill="#555"/>
<rect x="518.1" y="0" width="1.9" height="603" fill="#555"/>
<rect x="0" y="601.7" width="520" height="1.3" fill="#111"/>
</svg></body></html>
